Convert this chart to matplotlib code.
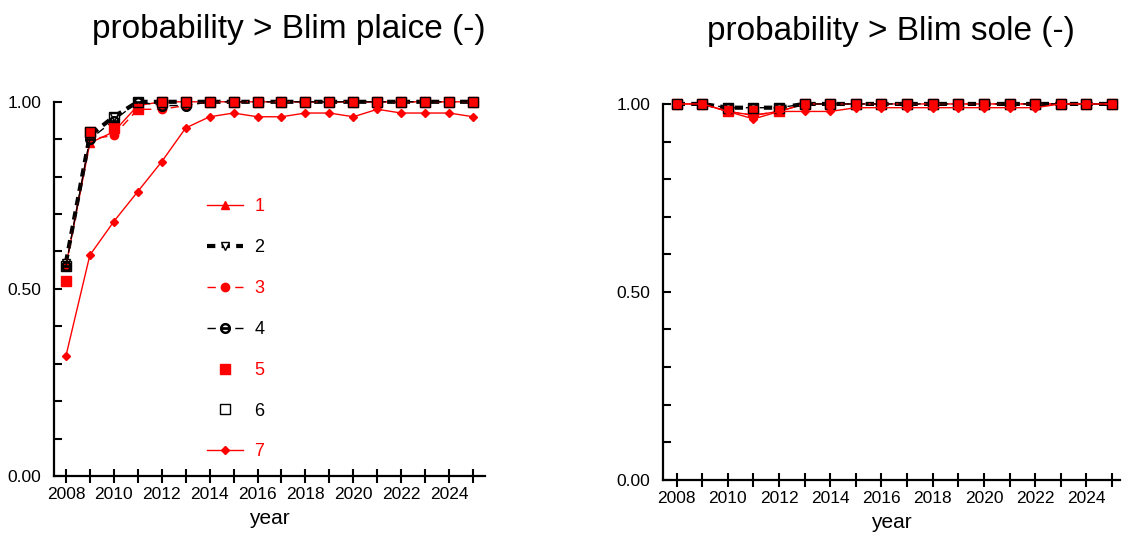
import numpy as np
import matplotlib.pyplot as plt
from matplotlib.ticker import MultipleLocator, FixedLocator

plt.rcParams['font.family'] = ['Liberation Sans', 'DejaVu Sans']

years = np.arange(2008, 2026)

# plaice: probability of SSB above Blim, per scenario
plaice_1 = [0.56, 0.89, 0.92, 0.99, 1.00, 1.00, 1.00, 1.00, 1.00, 1.00, 1.00, 1.00, 1.00, 1.00, 1.00, 1.00, 1.00, 1.00]
plaice_2 = [0.57, 0.91, 0.96, 1.00, 1.00, 1.00, 1.00, 1.00, 1.00, 1.00, 1.00, 1.00, 1.00, 1.00, 1.00, 1.00, 1.00, 1.00]
plaice_3 = [0.56, 0.90, 0.91, 0.98, 0.98, 0.99, 1.00, 1.00, 1.00, 1.00, 1.00, 1.00, 1.00, 1.00, 1.00, 1.00, 1.00, 1.00]
plaice_4 = [0.56, 0.90, 0.95, 1.00, 0.99, 0.99, 1.00, 1.00, 1.00, 1.00, 1.00, 1.00, 1.00, 1.00, 1.00, 1.00, 1.00, 1.00]
plaice_5 = [0.52, 0.92, 0.93, 0.98, 1.00, 1.00, 1.00, 1.00, 1.00, 1.00, 1.00, 1.00, 1.00, 1.00, 1.00, 1.00, 1.00, 1.00]
plaice_6 = [0.56, 0.92, 0.96, 1.00, 1.00, 1.00, 1.00, 1.00, 1.00, 1.00, 1.00, 1.00, 1.00, 1.00, 1.00, 1.00, 1.00, 1.00]
plaice_7 = [0.32, 0.59, 0.68, 0.76, 0.84, 0.93, 0.96, 0.97, 0.96, 0.96, 0.97, 0.97, 0.96, 0.98, 0.97, 0.97, 0.97, 0.96]

# sole
sole_1 = [1.00, 1.00, 0.98, 0.97, 0.98, 1.00, 1.00, 1.00, 1.00, 1.00, 1.00, 1.00, 1.00, 1.00, 1.00, 1.00, 1.00, 1.00]
sole_2 = [1.00, 1.00, 0.99, 0.99, 0.99, 1.00, 1.00, 1.00, 1.00, 1.00, 1.00, 1.00, 1.00, 1.00, 1.00, 1.00, 1.00, 1.00]
sole_3 = [1.00, 1.00, 0.98, 0.97, 0.98, 1.00, 1.00, 1.00, 1.00, 1.00, 1.00, 1.00, 1.00, 1.00, 1.00, 1.00, 1.00, 1.00]
sole_4 = [1.00, 1.00, 0.99, 0.99, 0.99, 1.00, 1.00, 1.00, 1.00, 1.00, 1.00, 1.00, 1.00, 1.00, 1.00, 1.00, 1.00, 1.00]
sole_5 = [1.00, 1.00, 0.98, 0.98, 0.98, 1.00, 1.00, 1.00, 1.00, 1.00, 1.00, 1.00, 1.00, 1.00, 1.00, 1.00, 1.00, 1.00]
sole_6 = [1.00, 1.00, 0.99, 0.99, 0.99, 1.00, 1.00, 1.00, 1.00, 1.00, 1.00, 1.00, 1.00, 1.00, 1.00, 1.00, 1.00, 1.00]
sole_7 = [1.00, 1.00, 0.98, 0.96, 0.98, 0.98, 0.98, 0.99, 0.99, 0.99, 0.99, 0.99, 0.99, 0.99, 0.99, 1.00, 1.00, 1.00]

labels = ["1", "2", "3", "4", "5", "6", "7"]
text_colors = ["red", "black", "red", "black", "red", "black", "red"]

# line style for each scenario
styles = [
    dict(color="red", lw=1.0, ls="-", marker="^", ms=6, mfc="red", mec="red"),
    dict(color="black", lw=3.0, ls=(0, (2, 1.5)), marker="v", ms=6, mfc="white", mec="black"),
    dict(color="red", lw=1.0, ls=(0, (6, 4)), marker="o", ms=6, mfc="red", mec="red"),
    dict(color="black", lw=1.0, ls=(0, (6, 4)), marker="$\\ominus$", ms=7, mfc="black", mec="black"),
    dict(color="red", lw=0, ls="none", marker="s", ms=7, mfc="red", mec="red"),
    dict(color="black", lw=0, ls="none", marker="s", ms=7, mfc="none", mec="black", mew=1.0),
    dict(color="red", lw=1.0, ls="-", marker="D", ms=4.5, mfc="red", mec="red"),
]


def draw_panel(ax, series, title, title_x=0.5, legend=False):
    for vals, st, lab in zip(series, styles, labels):
        ax.plot(years, vals, label=lab, clip_on=False, zorder=3, **st)

    ax.set_xlim(2007.5, 2025.5)
    ax.set_ylim(0, 1)
    ax.spines['top'].set_visible(False)
    ax.spines['right'].set_visible(False)
    ax.spines['left'].set_linewidth(1.6)
    ax.spines['bottom'].set_linewidth(1.6)

    ax.xaxis.set_major_locator(MultipleLocator(2))
    ax.xaxis.set_minor_locator(MultipleLocator(1))
    ax.yaxis.set_major_locator(FixedLocator([0, 0.5, 1.0]))
    ax.yaxis.set_minor_locator(MultipleLocator(0.1))
    ax.set_yticklabels(["0.00", "0.50", "1.00"])
    ax.tick_params(axis='x', which='both', direction='inout', length=10, width=1.5,
                   labelsize=12.5, pad=3)
    ax.tick_params(axis='y', which='both', direction='in', length=6, width=1.5,
                   labelsize=12.5, pad=9)
    ax.set_xlabel("year", fontsize=15, labelpad=5)
    ax.set_title(title, fontsize=24, pad=46, x=title_x)

    if legend:
        leg = ax.legend(loc='upper left', bbox_to_anchor=(0.318, 0.785), frameon=False,
                        fontsize=13, labelspacing=1.32, handlelength=2.0,
                        handletextpad=0.6, numpoints=1)
        for txt, c in zip(leg.get_texts(), text_colors):
            txt.set_color(c)


fig = plt.figure(figsize=(11.23, 5.33), dpi=100)
ax1 = fig.add_axes([0.048, 0.107, 0.384, 0.702])
ax2 = fig.add_axes([0.590, 0.100, 0.407, 0.705])

draw_panel(ax1, [plaice_1, plaice_2, plaice_3, plaice_4, plaice_5, plaice_6, plaice_7],
           "probability > Blim plaice (-)", title_x=0.545, legend=True)
draw_panel(ax2, [sole_1, sole_2, sole_3, sole_4, sole_5, sole_6, sole_7],
           "probability > Blim sole (-)")
ax2.set_xlim(2007.45, 2025.3)

fig.savefig("out.png", dpi=100)
